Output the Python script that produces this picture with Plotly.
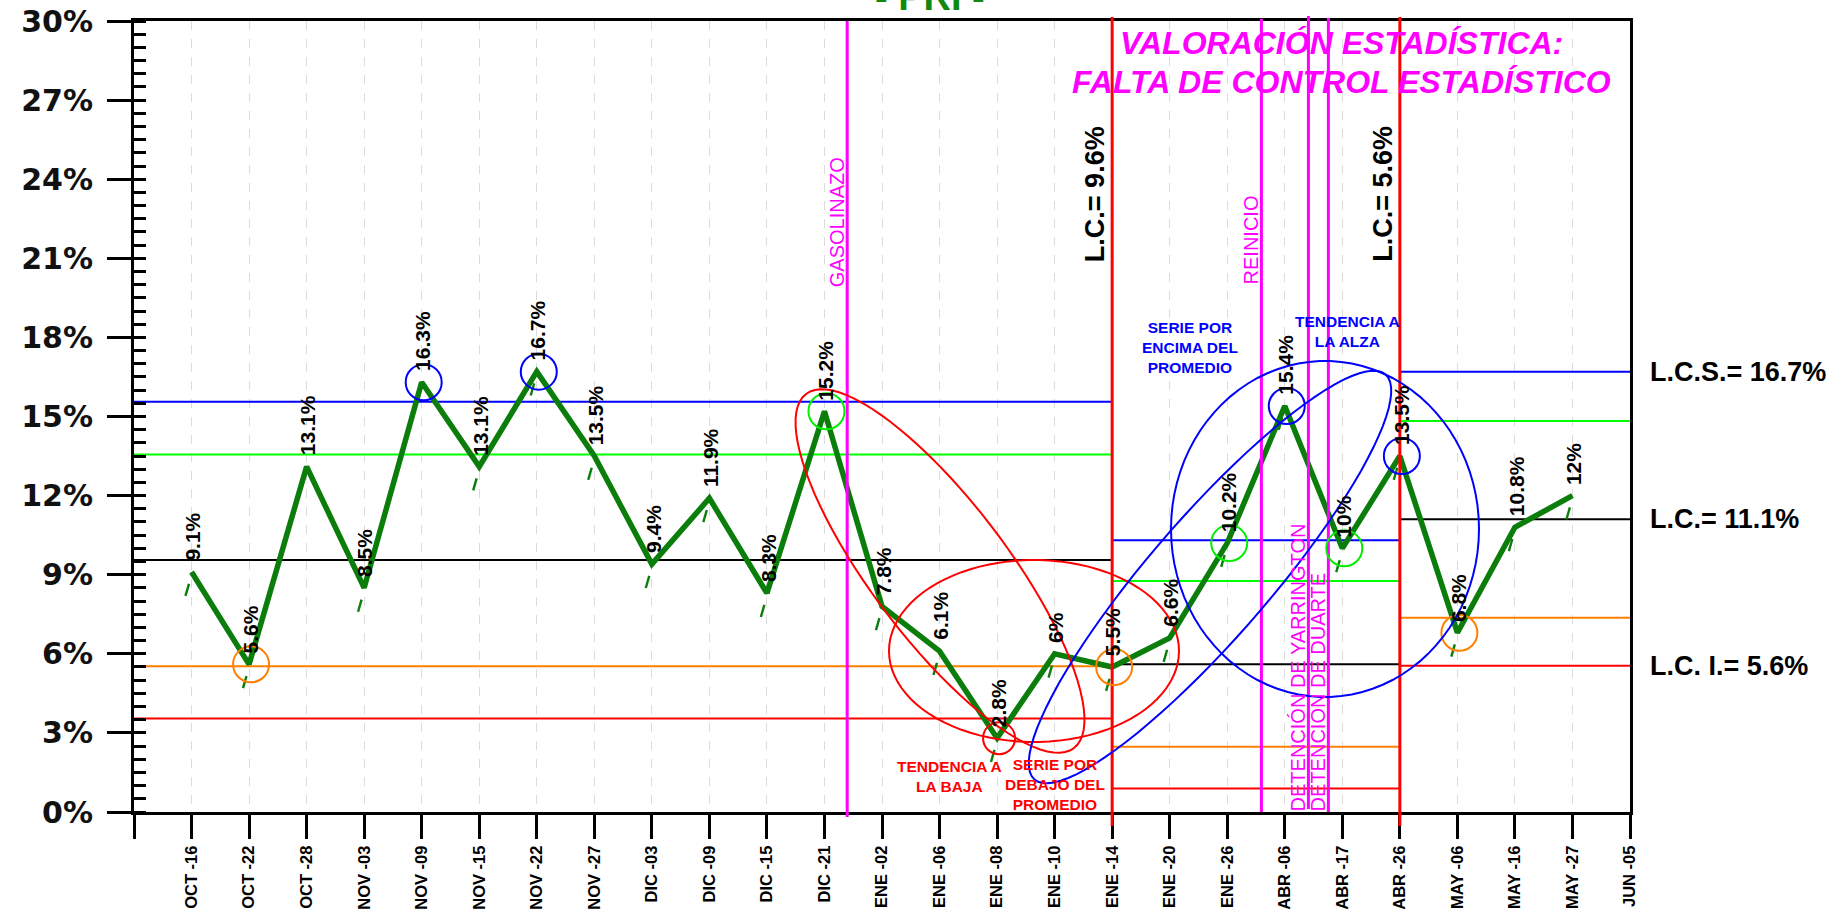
import math
import plotly.graph_objects as go

# ---------------- data ----------------
dates = ["OCT -16", "OCT -22", "OCT -28", "NOV -03", "NOV -09", "NOV -15", "NOV -22",
         "NOV -27", "DIC -03", "DIC -09", "DIC -15", "DIC -21", "ENE -02", "ENE -06",
         "ENE -08", "ENE -10", "ENE -14", "ENE -20", "ENE -26", "ABR -06", "ABR -17",
         "ABR -26", "MAY -06", "MAY -16", "MAY -27", "JUN -05"]
values = [9.1, 5.6, 13.1, 8.5, 16.3, 13.1, 16.7, 13.5, 9.4, 11.9, 8.3, 15.2, 7.8, 6.1,
          2.8, 6.0, 5.5, 6.6, 10.2, 15.4, 10.0, 13.5, 6.8, 10.8, 12.0]

# control-limit segments (slot positions on the x axis)
seg_start = [0, 17, 22]
seg_end = [17, 22, 26]
lcs = [15.56, 10.31, 16.7]
sup2 = [13.56, 8.76, 14.83]
lc = [9.56, 5.6, 11.1]
inf2 = [5.53, 2.47, 7.37]
lci = [3.55, 0.89, 5.55]

# events (vertical magenta lines)
event_pos = [12.395, 19.594, 20.411, 20.758]
event_text = ["GASOLINAZO", "REINICIO", "DETENCIÓN DE YARRINGTON", "DETENCIÓN DE DUARTE"]

# highlighted points (index into values, colour)
circ_idx = [1, 4, 6, 11, 14, 16, 18, 19, 20, 21, 22]
circ_col = ["#ff8000", "#0000ff", "#0000ff", "#00ee00", "#ff0000", "#ff8000", "#00ee00",
            "#0000ff", "#00ee00", "#0000ff", "#ff8000"]

# ---------------- geometry helpers ----------------
W, H = 1839, 914
ML, MR, MT, MB = 134, 209, 21, 102
PL, PR, PT, PB = ML, W - MR, MT, H - MB
NX = len(dates)          # slots 0..26
YMAX = 30


def px2x(px):
    return (px - PL) / (PR - PL) * NX


def px2y(py):
    return (PB - py) / (PB - PT) * YMAX


def ppx(px):
    return (px - PL) / (PR - PL)


def ppy(py):
    return (PB - py) / (PB - PT)


def ellipse_path(cx, cy, a, b, ang, n=90):
    th = math.radians(ang)
    pts = []
    for k in range(n):
        t = 2 * math.pi * k / n
        x = cx + a * math.cos(t) * math.cos(th) - b * math.sin(t) * math.sin(th)
        y = cy + a * math.cos(t) * math.sin(th) + b * math.sin(t) * math.cos(th)
        pts.append(f"{px2x(x):.4f},{px2y(y):.4f}")
    return "M " + " L ".join(pts) + " Z"


FONT = "Arial, Liberation Sans, sans-serif"
GREEN = "#0a7d0a"
MAG = "#ff00ff"

xs = list(range(1, len(values) + 1))

fig = go.Figure()

# control limit segments
lim_sets = [(lcs, "#0000ff"), (sup2, "#00ff00"), (lc, "#000000"), (inf2, "#ff8000"), (lci, "#ff0000")]
for arr, col in lim_sets:
    for s, e, v in zip(seg_start, seg_end, arr):
        fig.add_trace(go.Scatter(x=[s, e], y=[v, v], mode="lines",
                                 line=dict(color=col, width=2), hoverinfo="skip",
                                 showlegend=False))

# data line
fig.add_trace(go.Scatter(x=xs, y=values, mode="lines",
                         line=dict(color=GREEN, width=5.5), showlegend=False))

# small green leader dashes under each point
dash_dx = 0.075
dash_dy = 0.675
fig.add_trace(go.Scatter(x=[x - dash_dx for x in xs], y=[v - dash_dy for v in values],
                         mode="markers",
                         marker=dict(symbol="line-ns", size=9, angle=16,
                                     line=dict(color=GREEN, width=2.4)),
                         hoverinfo="skip", showlegend=False))

shapes = []
# vertical red lines at segment changes
for s in seg_start[1:]:
    shapes.append(dict(type="line", xref="x", yref="paper", x0=s, x1=s,
                       y0=ppy(826), y1=ppy(17), line=dict(color="#ff0000", width=3),
                       layer="above"))
# magenta event lines
ev_top = [21, 19, 16, 18]
ev_bot = [817, 812, 809, 812]
for p, t0, b0 in zip(event_pos, ev_top, ev_bot):
    shapes.append(dict(type="line", xref="x", yref="paper", x0=p, x1=p,
                       y0=ppy(b0), y1=ppy(t0), line=dict(color=MAG, width=3),
                       layer="above"))
# small circles around points
for i, c in zip(circ_idx, circ_col):
    r = 16 if c == "#ff0000" else 18
    shapes.append(dict(type="circle", xref="x", yref="y", xsizemode="pixel",
                       ysizemode="pixel", xanchor=xs[i], yanchor=values[i],
                       x0=-r + 2, x1=r + 2, y0=-r, y1=r,
                       line=dict(color=c, width=2), layer="above"))
# large hand-drawn ellipses
big = [(940, 571, 222, 68, 52.9, "#ff0000"),
       (1034, 651, 145, 91, 0, "#ff0000"),
       (1210, 577, 268, 60, -49.1, "#0000ff"),
       (1325, 529, 154, 168, 0, "#0000ff")]
for cx, cy, a, b, ang, col in big:
    shapes.append(dict(type="path", xref="x", yref="y", path=ellipse_path(cx, cy, a, b, ang),
                       line=dict(color=col, width=2), layer="above"))

ann = []
# data labels
for x, v in zip(xs, values):
    ann.append(dict(x=x, y=v, xref="x", yref="y", text=f"{v:g}%", showarrow=False,
                    textangle=-90, yanchor="bottom", xanchor="center", yshift=9, xshift=1,
                    font=dict(family=FONT, size=21, color="black", weight="bold")))

# event labels (rotated, left of their line)
ev_cy = [222, 240, 667, 692]
for p, t, cy in zip(event_pos, event_text, ev_cy):
    ann.append(dict(x=p, y=ppy(cy), xref="x", yref="paper", text=t, showarrow=False,
                    textangle=-90, xanchor="right", yanchor="middle", xshift=3,
                    font=dict(family=FONT, size=20, color=MAG)))

# L.C. rotated labels
for s, v in zip(seg_start[1:], lc[:2]):
    ann.append(dict(x=s, y=ppy(194), xref="x", yref="paper", text=f"L.C.= {v:.1f}%",
                    showarrow=False, textangle=-90, xanchor="right", yanchor="middle",
                    xshift=0,
                    font=dict(family=FONT, size=27, color="black", weight="bold")))

# right-hand limit labels
right_lbl = [(lcs[2], "L.C.S.= 16.7%"), (lc[2], "L.C.= 11.1%"), (lci[2], "L.C. I.= 5.6%")]
for v, t in right_lbl:
    ann.append(dict(x=ppx(1648), y=v, xref="paper", yref="y", text=t, showarrow=False,
                    xanchor="left", yanchor="middle",
                    font=dict(family=FONT, size=27, color="black", weight="bold")))

# title (cut at the top)
ann.append(dict(x=ppx(930), y=ppy(10), xref="paper", yref="paper", text="- PRI -",
                showarrow=False, xanchor="center", yanchor="bottom", yshift=-10,
                font=dict(family=FONT, size=38, color="#0f8a0f", weight="bold")))

# valoración text
for t, cy in [("VALORACIÓN ESTADÍSTICA:", 43.5), ("FALTA DE CONTROL ESTADÍSTICO", 81.5)]:
    ann.append(dict(x=ppx(1341), y=ppy(cy), xref="paper", yref="paper", text=t,
                    showarrow=False, xanchor="center", yanchor="middle",
                    font=dict(family=FONT, size=32, color=MAG, weight="bold",
                              style="italic")))

# trend/series notes
notes = [("TENDENCIA A<br>LA BAJA", 949, 776, "#ff0000"),
         ("SERIE POR<br>DEBAJO DEL<br>PROMEDIO", 1055, 784, "#ff0000"),
         ("SERIE POR<br>ENCIMA DEL<br>PROMEDIO", 1190, 347, "#0000ff"),
         ("TENDENCIA A<br>LA ALZA", 1347, 331, "#0000ff")]
for t, cx, cy, col in notes:
    ann.append(dict(x=ppx(cx), y=ppy(cy), xref="paper", yref="paper", text=t,
                    showarrow=False, xanchor="center", yanchor="middle",
                    font=dict(family=FONT, size=15.5, color=col, weight="bold")))

fig.update_layout(
    width=W, height=H,
    margin=dict(l=ML, r=MR, t=MT, b=MB, pad=0, autoexpand=False),
    paper_bgcolor="white", plot_bgcolor="white",
    showlegend=False,
    shapes=shapes, annotations=ann,
    font=dict(family=FONT),
)
fig.update_xaxes(
    range=[0, NX], tickmode="array", tickvals=list(range(0, NX + 1)),
    ticktext=[""] + dates, tickangle=-90, automargin=False,
    ticks="outside", ticklen=24, tickwidth=3, tickcolor="black",
    ticklabelstandoff=0,
    tickfont=dict(family=FONT, size=16.5, color="black", weight="bold"),
    showline=True, linewidth=3, linecolor="black", mirror=True,
    showgrid=True, gridcolor="#dcdcdc", griddash="dash", gridwidth=1,
    zeroline=False,
)
fig.update_yaxes(
    range=[0, YMAX], tick0=0, dtick=3, ticksuffix="%", automargin=False,
    ticks="outside", ticklen=24, tickwidth=3, tickcolor="black",
    ticklabelstandoff=8,
    tickfont=dict(family="DejaVu Sans, Arial, sans-serif", size=30, color="#111111",
                  weight="bold"),
    minor=dict(dtick=0.5, tick0=0, ticks="inside", ticklen=12, tickwidth=2.5,
               tickcolor="black", showgrid=False),
    showline=True, linewidth=3, linecolor="black", mirror=True,
    showgrid=False, zeroline=False,
)

fig.write_html("out.html", config={"displayModeBar": False},
               post_script="document.body.style.margin='0';document.body.style.overflow='hidden';")
